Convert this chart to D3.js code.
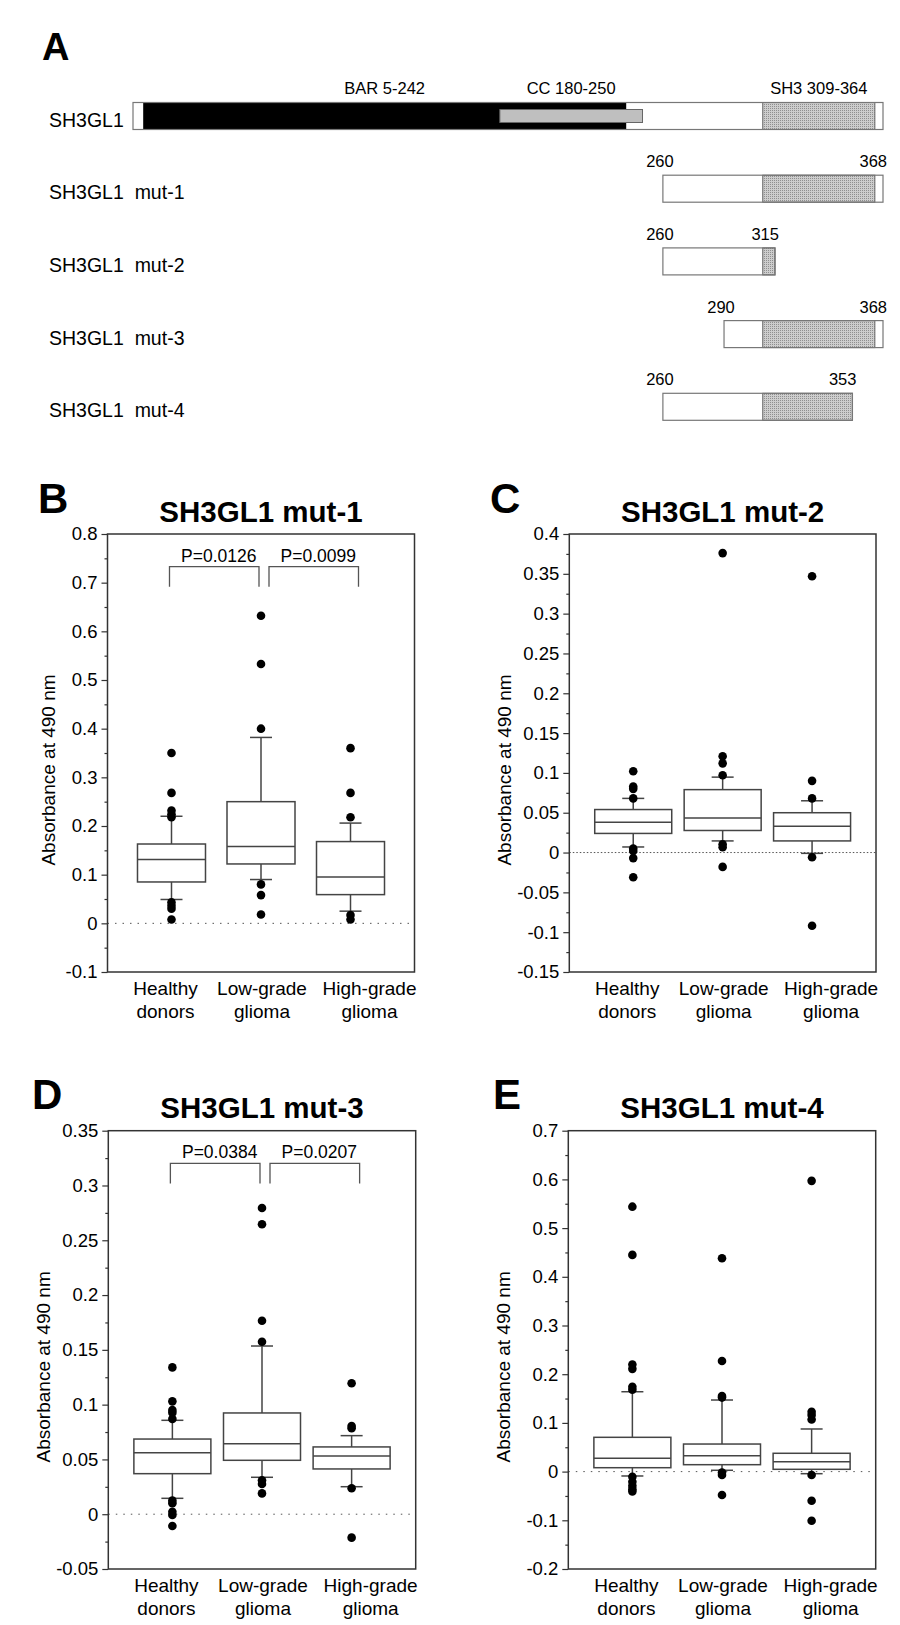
<!DOCTYPE html>
<html>
<head>
<meta charset="utf-8">
<title>SH3GL1 mutants</title>
<script src="https://cdn.jsdelivr.net/npm/d3@7/dist/d3.min.js"></script>
<style>
  body { margin: 0; background: #fff; }
  text { font-family: "Liberation Sans", Arial, sans-serif; fill: #000; }
</style>
</head>
<body>
<script>
// ---- panel A : constructs (residue numbers) ----
var constructs = ["SH3GL1", "SH3GL1  mut-1", "SH3GL1  mut-2", "SH3GL1  mut-3", "SH3GL1  mut-4"];
var constructStart = [0, 260, 260, 290, 260];
var constructEnd = [368, 368, 315, 368, 353];
var domainNames = ["BAR 5-242", "CC 180-250", "SH3 309-364"];
var domainStart = [5, 180, 309];
var domainEnd = [242, 250, 364];

// ---- panels B-E : absorbance at 490 nm ----
var groups = ["Healthy donors", "Low-grade glioma", "High-grade glioma"];

// each box: [lower whisker, Q1, median, Q3, upper whisker]
var mut1Box = [[0.049, 0.085, 0.131, 0.163, 0.220], [0.090, 0.122, 0.158, 0.250, 0.382], [0.025, 0.059, 0.095, 0.168, 0.206]];
var mut1Out = [[0.350, 0.268, 0.232, 0.224, 0.218, 0.043, 0.036, 0.030, 0.008], [0.632, 0.533, 0.400, 0.080, 0.058, 0.018], [0.360, 0.268, 0.218, 0.017, 0.008]];
var mut1Ticks = [-0.1, 0, 0.1, 0.2, 0.3, 0.4, 0.5, 0.6, 0.7, 0.8];
var mut1P = ["P=0.0126", "P=0.0099"];

var mut2Box = [[0.007, 0.024, 0.038, 0.054, 0.068], [0.0146, 0.0277, 0.0435, 0.079, 0.0947], [-0.001, 0.0146, 0.033, 0.050, 0.065]];
var mut2Out = [[0.102, 0.083, 0.080, 0.068, 0.005, 0.002, -0.007, -0.031], [0.376, 0.121, 0.112, 0.097, 0.0105, 0.0067, -0.018], [0.347, 0.090, 0.068, -0.006, -0.092]];
var mut2Ticks = [-0.15, -0.1, -0.05, 0, 0.05, 0.1, 0.15, 0.2, 0.25, 0.3, 0.35, 0.4];

var mut3Box = [[0.0145, 0.037, 0.056, 0.0686, 0.0857], [0.0337, 0.0492, 0.0644, 0.0924, 0.1535], [0.0251, 0.0413, 0.0531, 0.0614, 0.0717]];
var mut3Out = [[0.134, 0.103, 0.095, 0.0927, 0.087, 0.0124, 0.010, 0.0023, -0.0007, -0.0107], [0.2795, 0.2646, 0.1766, 0.1574, 0.031, 0.0276, 0.019], [0.1195, 0.0805, 0.0784, 0.0237, -0.0214]];
var mut3Ticks = [-0.05, 0, 0.05, 0.1, 0.15, 0.2, 0.25, 0.3, 0.35];
var mut3P = ["P=0.0384", "P=0.0207"];

var mut4Box = [[-0.009, 0.008, 0.0273, 0.0704, 0.164], [0.0027, 0.0142, 0.0326, 0.0566, 0.147], [-0.0043, 0.0047, 0.0204, 0.0376, 0.0875]];
var mut4Out = [[0.544, 0.445, 0.220, 0.211, 0.174, 0.168, -0.0105, -0.021, -0.029, -0.036, -0.041], [0.438, 0.227, 0.155, 0.152, -0.002, -0.007, -0.048], [0.597, 0.123, 0.116, 0.107, -0.007, -0.060, -0.101]];
var mut4Ticks = [-0.2, -0.1, 0, 0.1, 0.2, 0.3, 0.4, 0.5, 0.6, 0.7];

var svg = d3.select("body").append("svg")
  .attr("width", 900)
  .attr("height", 1625);

// stippled fill for the SH3 domain
var pat = svg.append("defs").append("pattern")
  .attr("id", "stipple")
  .attr("width", 2).attr("height", 2)
  .attr("patternUnits", "userSpaceOnUse");
pat.append("rect").attr("width", 2).attr("height", 2).attr("fill", "#cdcdcd");
pat.append("rect").attr("width", 1).attr("height", 1).attr("fill", "#8f8f8f");

// ================= panel A =================
var rx = d3.scaleLinear().domain([0, 368]).range([133, 883]);
var ry = d3.scalePoint().domain(constructs).range([102.5, 393.3]);
var barH = 27;

svg.append("text").attr("x", 42).attr("y", 60)
  .style("font-size", "38px").style("font-weight", "bold").text("A");

constructs.forEach(function(name, i) {
  var s = constructStart[i], e = constructEnd[i], top = ry(name);
  var g = svg.append("g");

  g.append("text").attr("x", 49).attr("y", top + 24)
    .style("font-size", "19.5px").style("white-space", "pre").text(name);

  g.append("rect")
    .attr("x", rx(s)).attr("y", top)
    .attr("width", rx(e) - rx(s)).attr("height", barH)
    .attr("fill", "#fff");

  // BAR, SH3 full height, CC drawn on top as a thinner bar
  [0, 2, 1].forEach(function(k) {
    var a = Math.max(s, domainStart[k]), b = Math.min(e, domainEnd[k]);
    if (b <= a) return;
    var thin = k === 1;
    g.append("rect")
      .attr("x", rx(a)).attr("y", thin ? top + 7 : top)
      .attr("width", rx(b) - rx(a)).attr("height", thin ? 13 : barH)
      .attr("fill", k === 0 ? "#000" : (k === 1 ? "#bfbfbf" : "url(#stipple)"))
      .attr("stroke", k === 0 ? "none" : "#666")
      .attr("stroke-width", 1);
  });

  g.append("rect")
    .attr("x", rx(s)).attr("y", top)
    .attr("width", rx(e) - rx(s)).attr("height", barH)
    .attr("fill", "none").attr("stroke", "#777").attr("stroke-width", 1.2);

  if (i === 0) {
    domainNames.forEach(function(dn, k) {
      g.append("text")
        .attr("x", rx((domainStart[k] + domainEnd[k]) / 2)).attr("y", top - 8.5)
        .attr("text-anchor", "middle").style("font-size", "16.5px").text(dn);
    });
  } else {
    g.append("text").attr("x", rx(s) - 3).attr("y", top - 8)
      .attr("text-anchor", "middle").style("font-size", "16.5px").text(s);
    g.append("text").attr("x", rx(e) + 4).attr("y", top - 8)
      .attr("text-anchor", "end").style("font-size", "16.5px").text(e);
  }
});

// ================= panels B-E =================
function fmt(v) { return String(+v.toFixed(3)); }

function boxPanel(o) {
  var g = svg.append("g");
  var t = o.ticks;
  var y = d3.scaleLinear().domain([t[0], t[t.length - 1]]).range([o.bottom, o.top]);
  var x = d3.scalePoint().domain(groups).range([o.left, o.right]).padding(0.715);

  // dotted zero line
  g.append("line")
    .attr("x1", o.left).attr("x2", o.right)
    .attr("y1", y(0)).attr("y2", y(0))
    .attr("stroke", "#555").attr("stroke-width", 1)
    .attr("stroke-dasharray", o.dash);

  var bw = o.boxW, cap = 11;
  var boxes = g.selectAll(".box").data(o.box).enter().append("g")
    .attr("class", "box")
    .attr("transform", function(d, i) { return "translate(" + x(groups[i]) + ",0)"; });

  var line = function(sel, x1, y1, x2, y2) {
    sel.append("line")
      .attr("x1", x1).attr("y1", y1).attr("x2", x2).attr("y2", y2)
      .attr("stroke", "#444").attr("stroke-width", 1.5);
  };
  boxes.each(function(d) {
    var b = d3.select(this);
    line(b, 0, y(d[0]), 0, y(d[1]));
    line(b, 0, y(d[3]), 0, y(d[4]));
    line(b, -cap, y(d[0]), cap, y(d[0]));
    line(b, -cap, y(d[4]), cap, y(d[4]));
    b.append("rect")
      .attr("x", -bw / 2).attr("y", y(d[3]))
      .attr("width", bw).attr("height", y(d[1]) - y(d[3]))
      .attr("fill", "none").attr("stroke", "#444").attr("stroke-width", 1.5);
    line(b, -bw / 2, y(d[2]), bw / 2, y(d[2]));
  });

  o.out.forEach(function(vals, i) {
    g.selectAll(null).data(vals).enter().append("circle")
      .attr("cx", x(groups[i])).attr("cy", function(v) { return y(v); })
      .attr("r", 4.3).attr("fill", "#000");
  });

  // y axis: major + minor ticks
  var minor = [];
  for (var k = 0; k < t.length - 1; k++) minor.push((t[k] + t[k + 1]) / 2);
  var ax = g.append("g").attr("transform", "translate(" + o.left + ",0)")
    .call(d3.axisLeft(y).tickValues(t).tickSize(6).tickPadding(4).tickFormat(fmt));
  var axm = g.append("g").attr("transform", "translate(" + o.left + ",0)")
    .call(d3.axisLeft(y).tickValues(minor).tickSize(3).tickFormat(""));
  [ax, axm].forEach(function(a) {
    a.select(".domain").remove();
    a.selectAll("line").attr("stroke", "#333").attr("stroke-width", 1.2);
  });
  ax.selectAll("text")
    .style("font-family", "'Liberation Sans', Arial, sans-serif")
    .style("font-size", "18.5px").attr("fill", "#000");

  // frame
  g.append("rect")
    .attr("x", o.left).attr("y", o.top)
    .attr("width", o.right - o.left).attr("height", o.bottom - o.top)
    .attr("fill", "none").attr("stroke", "#333").attr("stroke-width", 1.5);

  // axis title
  g.append("text")
    .attr("transform", "translate(" + (o.left - o.labGap) + "," + ((o.top + o.bottom) / 2 + 17) + ") rotate(-90)")
    .attr("text-anchor", "middle").style("font-size", "19px")
    .text("Absorbance at 490 nm");

  // category labels
  var shift = [-6, 1, 19];
  groups.forEach(function(name, i) {
    var parts = name.split(" ");
    var tx = g.append("text").attr("text-anchor", "middle").style("font-size", "19px");
    tx.append("tspan").attr("x", x(name) + shift[i]).attr("y", o.bottom + 23).text(parts[0]);
    tx.append("tspan").attr("x", x(name) + shift[i]).attr("y", o.bottom + 46).text(parts[1]);
  });

  // title and panel letter
  g.append("text")
    .attr("x", (o.left + o.right) / 2).attr("y", o.top - 12.3)
    .attr("text-anchor", "middle")
    .style("font-size", "29.5px").style("font-weight", "bold")
    .text(o.title);
  g.append("text")
    .attr("x", o.letterX).attr("y", o.top - 21.5)
    .style("font-size", "42px").style("font-weight", "bold")
    .text(o.letter);

  // significance brackets
  if (o.p) {
    var pairs = [[0, 1, -2], [1, 2, 8]];
    pairs.forEach(function(pr, j) {
      var x1 = x(groups[pr[0]]) + pr[2], x2 = x(groups[pr[1]]) + pr[2];
      var yb = o.top + 32.7, yl = o.top + 52.7;
      g.append("path")
        .attr("d", "M" + x1 + "," + yl + "V" + yb + "H" + x2 + "V" + yl)
        .attr("fill", "none").attr("stroke", "#555").attr("stroke-width", 1.3);
      g.append("text")
        .attr("x", (x1 + x2) / 2 + 4.5).attr("y", o.top + 27.7)
        .attr("text-anchor", "middle").style("font-size", "17.5px")
        .text(o.p[j]);
    });
  }
}

boxPanel({ letter: "B", letterX: 38, title: "SH3GL1 mut-1", box: mut1Box, out: mut1Out, ticks: mut1Ticks, p: mut1P,
  left: 107.5, right: 414.5, top: 534, bottom: 972, boxW: 68, labGap: 53, dash: "1.5,6" });
boxPanel({ letter: "C", letterX: 490, title: "SH3GL1 mut-2", box: mut2Box, out: mut2Out, ticks: mut2Ticks,
  left: 569.3, right: 876, top: 534, bottom: 972, boxW: 77, labGap: 58, dash: "1.5,2" });
boxPanel({ letter: "D", letterX: 32, title: "SH3GL1 mut-3", box: mut3Box, out: mut3Out, ticks: mut3Ticks, p: mut3P,
  left: 108.3, right: 415.7, top: 1130.7, bottom: 1569, boxW: 77, labGap: 58, dash: "1.5,6" });
boxPanel({ letter: "E", letterX: 493, title: "SH3GL1 mut-4", box: mut4Box, out: mut4Out, ticks: mut4Ticks,
  left: 568.3, right: 875.7, top: 1130.7, bottom: 1569, boxW: 77, labGap: 58, dash: "1.5,6" });
</script>
</body>
</html>
